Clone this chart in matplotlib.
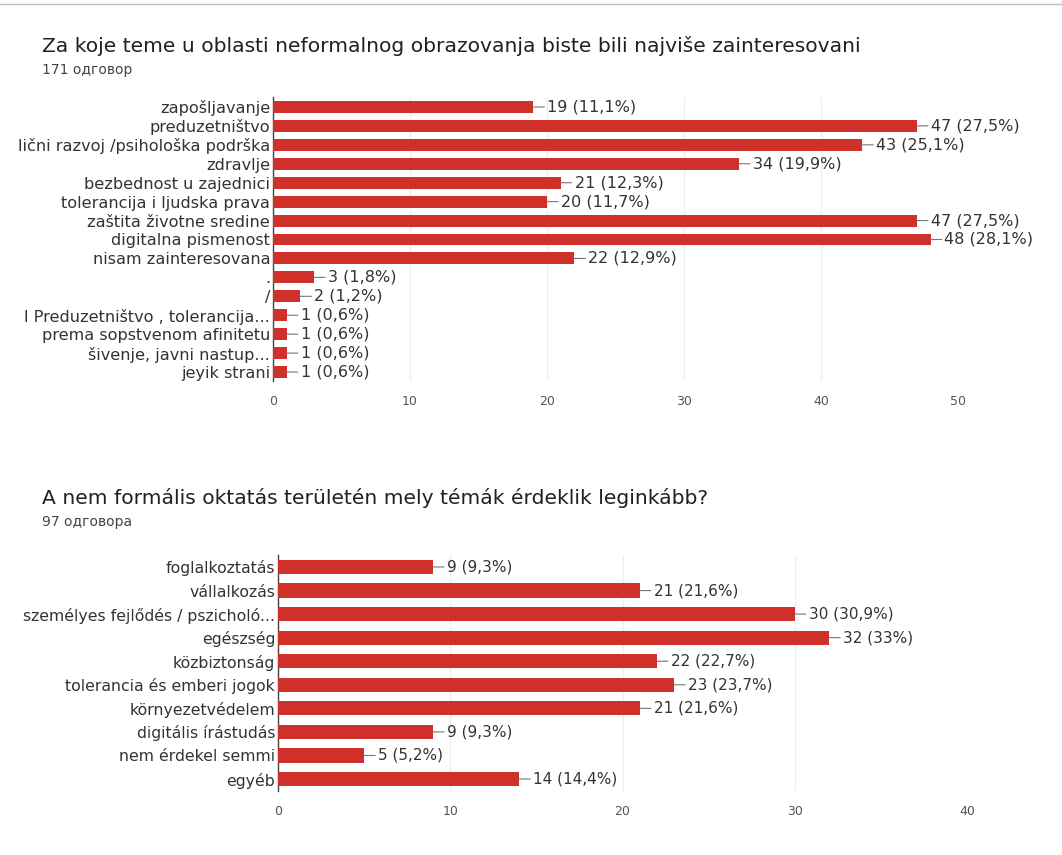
import matplotlib.pyplot as plt
from matplotlib.lines import Line2D

# top chart
title_1 = "Za koje teme u oblasti neformalnog obrazovanja biste bili najviše zainteresovani"
sub_1 = "171 одговор"
cats_1 = ["zapošljavanje", "preduzetništvo", "lični razvoj /psihološka podrška", "zdravlje",
          "bezbednost u zajednici", "tolerancija i ljudska prava", "zaštita životne sredine",
          "digitalna pismenost", "nisam zainteresovana", ".", "/",
          "l Preduzetništvo , tolerancija...", "prema sopstvenom afinitetu",
          "šivenje, javni nastup...", "jeyik strani"]
vals_1 = [19, 47, 43, 34, 21, 20, 47, 48, 22, 3, 2, 1, 1, 1, 1]
pct_1 = ["11,1", "27,5", "25,1", "19,9", "12,3", "11,7", "27,5", "28,1", "12,9",
         "1,8", "1,2", "0,6", "0,6", "0,6", "0,6"]
ticks_1 = [0, 10, 20, 30, 40, 50]

# bottom chart
title_2 = "A nem formális oktatás területén mely témák érdeklik leginkább?"
sub_2 = "97 одговора"
cats_2 = ["foglalkoztatás", "vállalkozás", "személyes fejlődés / pszicholó...", "egészség",
          "közbiztonság", "tolerancia és emberi jogok", "környezetvédelem",
          "digitális írástudás", "nem érdekel semmi", "egyéb"]
vals_2 = [9, 21, 30, 32, 22, 23, 21, 9, 5, 14]
pct_2 = ["9,3", "21,6", "30,9", "33", "22,7", "23,7", "21,6", "9,3", "5,2", "14,4"]
ticks_2 = [0, 10, 20, 30, 40]

BAR = "#d0302a"
TXT = "#333333"
plt.rcParams['font.family'] = ['DejaVu Sans']

W, H = 1062, 855
fig = plt.figure(figsize=(W / 100, H / 100), dpi=100)
fig.add_artist(Line2D([0, 1], [1 - 4 / H, 1 - 4 / H], color="#bdbdbd", lw=1))


def px_axes(x0, x1, y0, y1):
    return fig.add_axes([x0 / W, 1 - y1 / H, (x1 - x0) / W, (y1 - y0) / H])


def draw(ax, cats, vals, pcts, ticks, bh, fs, vfs):
    n = len(cats)
    ax.barh(range(n), vals, height=bh, color=BAR, zorder=3)
    for i, (v, p) in enumerate(zip(vals, pcts)):
        ax.annotate(f"{v} ({p}%)", xy=(v, i), xytext=(10, 0), textcoords="offset points",
                    ha="left", va="center", fontsize=vfs, color=TXT,
                    arrowprops=dict(arrowstyle="-", color="#777777", lw=0.8,
                                    shrinkA=0, shrinkB=0))
    ax.set_ylim(n - 0.5, -0.5)
    ax.set_xlim(ticks[0], ticks[-1])
    ax.set_yticks(range(n))
    ax.set_yticklabels(cats, fontsize=fs, color=TXT)
    ax.set_xticks(ticks)
    ax.set_xticklabels([str(t) for t in ticks], fontsize=9, color="#555555")
    ax.tick_params(length=0, pad=2)
    ax.tick_params(axis="x", pad=10)
    ax.grid(axis="x", color="#efefef", lw=1, zorder=0)
    for s in ["top", "right", "bottom"]:
        ax.spines[s].set_visible(False)
    ax.spines["left"].set_color("#444444")
    ax.spines["left"].set_linewidth(1)


ax1 = px_axes(273, 958, 97.5, 381.5)
draw(ax1, cats_1, vals_1, pct_1, ticks_1, 0.63, 11.6, 11.5)
fig.text(42 / W, 1 - 46 / H, title_1, fontsize=14.6, color="#202124", va="center")
fig.text(42 / W, 1 - 70 / H, sub_1, fontsize=10, color="#444444", va="center")

ax2 = px_axes(278, 967, 555.2, 790.8)
draw(ax2, cats_2, vals_2, pct_2, ticks_2, 0.6, 11.3, 11)
fig.text(42 / W, 1 - 498 / H, title_2, fontsize=14.6, color="#202124", va="center")
fig.text(42 / W, 1 - 522 / H, sub_2, fontsize=10, color="#444444", va="center")

fig.savefig("out.png", dpi=100, facecolor="white")
